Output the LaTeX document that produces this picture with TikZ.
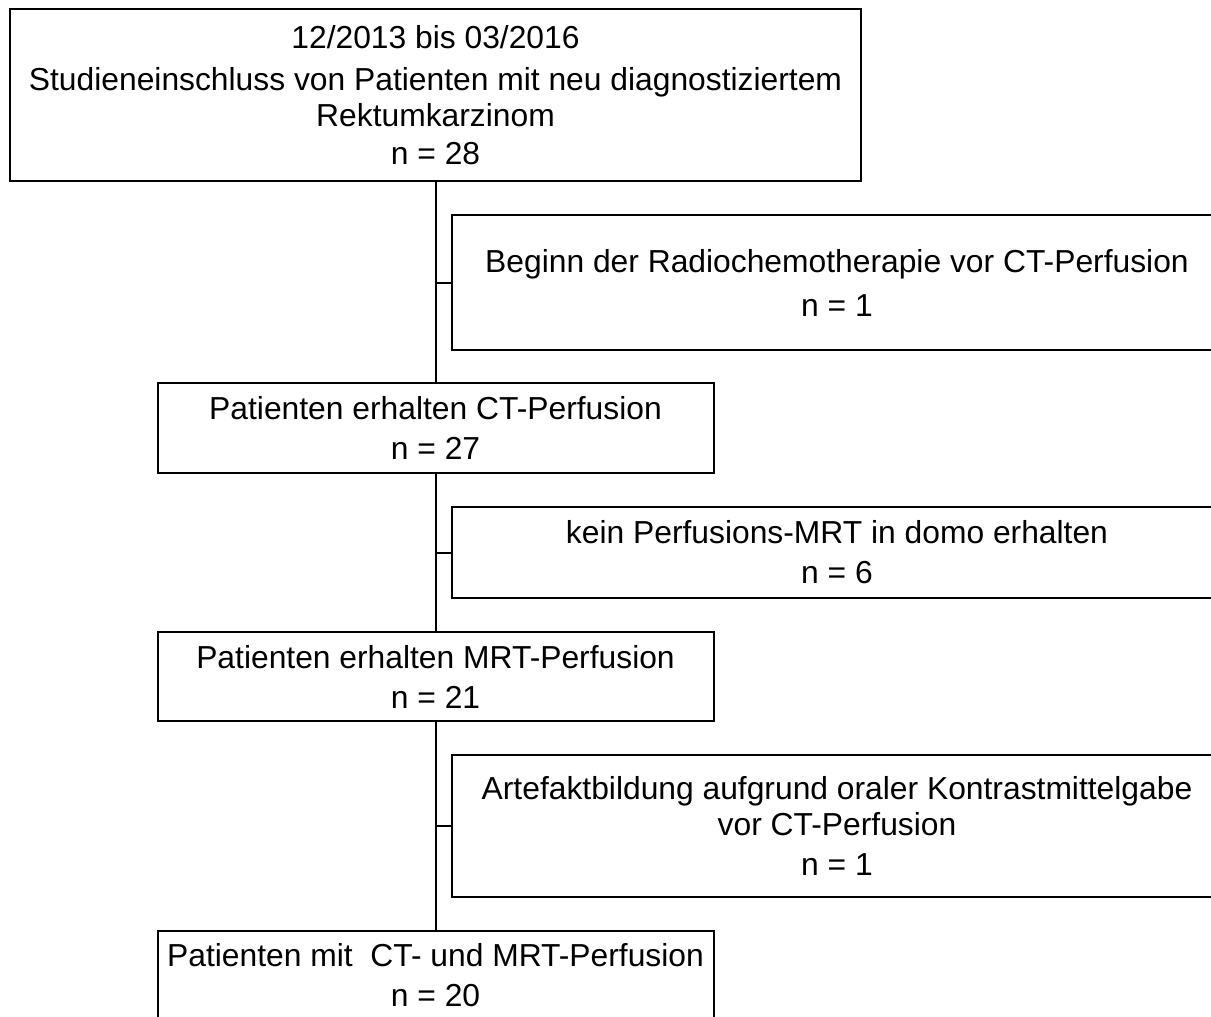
\documentclass[tikz,border=0pt]{standalone}
\usepackage{fontspec}
\setmainfont{Liberation Sans}
\begin{document}
\begin{tikzpicture}[x=1pt,y=-1pt,
  box/.style={draw, line width=2pt, inner sep=0pt, align=center, fill=white,
    font=\fontsize{31.8}{36}\selectfont},
  conn/.style={draw, line width=2pt}]
\useasboundingbox (0,0) rectangle (1211,1017);
\node[box, minimum width=851pt, minimum height=172pt] (top) at (435.5,95)
  {12/2013 bis 03/2016\\[6pt]Studieneinschluss von Patienten mit neu diagnostiziertem\\Rektumkarzinom\\[2pt]n = 28};
\node[box, minimum width=770pt, minimum height=135pt] (r1) at (837,282.5)
  {Beginn der Radiochemotherapie vor CT-Perfusion\\[8pt]n = 1};
\node[box, minimum width=556pt, minimum height=90pt] (b3) at (435.5,428)
  {Patienten erhalten CT-Perfusion\\[4pt]n = 27};
\node[box, minimum width=770pt, minimum height=91pt] (r2) at (837,552.5)
  {kein Perfusions-MRT in domo erhalten\\[4pt]n = 6};
\node[box, minimum width=556pt, minimum height=89pt] (b5) at (435.5,676.5)
  {Patienten erhalten MRT-Perfusion\\[4pt]n = 21};
\node[box, minimum width=770pt, minimum height=142pt] (r3) at (837,826)
  {Artefaktbildung aufgrund oraler Kontrastmittelgabe\\vor CT-Perfusion\\[4pt]n = 1};
\node[box, minimum width=556pt, minimum height=89pt] (bot) at (435.5,975.5)
  {Patienten mit\ \ CT- und MRT-Perfusion\\[4pt]n = 20};
\draw[conn] (top.south) -- (b3.north);
\draw[conn] (b3.south) -- (b5.north);
\draw[conn] (b5.south) -- (bot.north);
\draw[conn] (r1.west) -- (r1.west -| top.south);
\draw[conn] (r2.west) -- (r2.west -| top.south);
\draw[conn] (r3.west) -- (r3.west -| top.south);
\end{tikzpicture}
\end{document}
